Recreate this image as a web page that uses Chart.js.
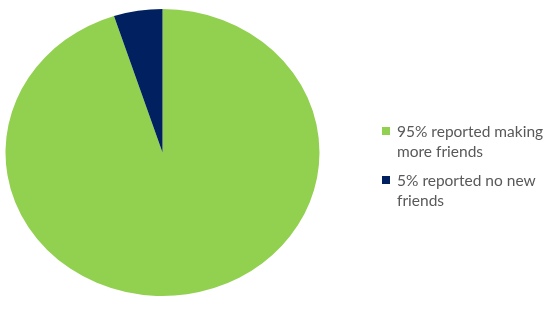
<!DOCTYPE html>
<html>
<head>
<meta charset="utf-8">
<script src="https://cdn.jsdelivr.net/npm/chart.js@4/dist/chart.umd.min.js"></script>
<style>
  html, body { margin: 0; padding: 0; background: #ffffff; }
  #wrap { position: relative; width: 545px; height: 324px; overflow: hidden; }
  #c { position: absolute; left: 0; top: 0; }
  #legend { position: absolute; left: 382px; top: 121px; font-family: Lato, "Liberation Sans", sans-serif; font-size: 15.5px; color: #595959; }
  .item { position: relative; padding-left: 15px; line-height: 20px; margin-bottom: 9px; white-space: nowrap; }
  .box { position: absolute; left: 0; top: 6px; width: 8px; height: 8px; }
</style>
</head>
<body>
<div id="wrap">
  <canvas id="c" width="545" height="324"></canvas>
  <div id="legend"></div>
</div>
<script>
const categories = [
  ["95% reported making", "more friends"],
  ["5% reported no new", "friends"]
];
const values = [95, 5];
const colors = ["#92D050", "#002060"];

const stretch = {
  id: 'stretch',
  beforeDatasetsDraw(chart) {
    const ctx = chart.ctx;
    const a = chart.chartArea;
    const cx = (a.left + a.right) / 2, cy = (a.top + a.bottom) / 2;
    ctx.save();
    ctx.translate(cx, cy);
    ctx.scale(157 / 143.5, 1);
    ctx.translate(-cx, -cy);
  },
  afterDatasetsDraw(chart) { chart.ctx.restore(); }
};

new Chart(document.getElementById('c'), {
  type: 'pie',
  data: {
    labels: categories.map(l => l.join(' ')),
    datasets: [{ data: values, backgroundColor: colors, borderWidth: 0 }]
  },
  options: {
    responsive: false,
    animation: false,
    layout: { padding: { left: 19, top: 9, bottom: 28, right: 239 } },
    plugins: { legend: { display: false }, tooltip: { enabled: false } }
  },
  plugins: [stretch]
});

const lg = document.getElementById('legend');
categories.forEach((lines, i) => {
  const d = document.createElement('div');
  d.className = 'item';
  const b = document.createElement('span');
  b.className = 'box';
  b.style.background = colors[i];
  d.appendChild(b);
  lines.forEach((t, j) => {
    if (j) d.appendChild(document.createElement('br'));
    d.appendChild(document.createTextNode(t));
  });
  lg.appendChild(d);
});
</script>
</body>
</html>
